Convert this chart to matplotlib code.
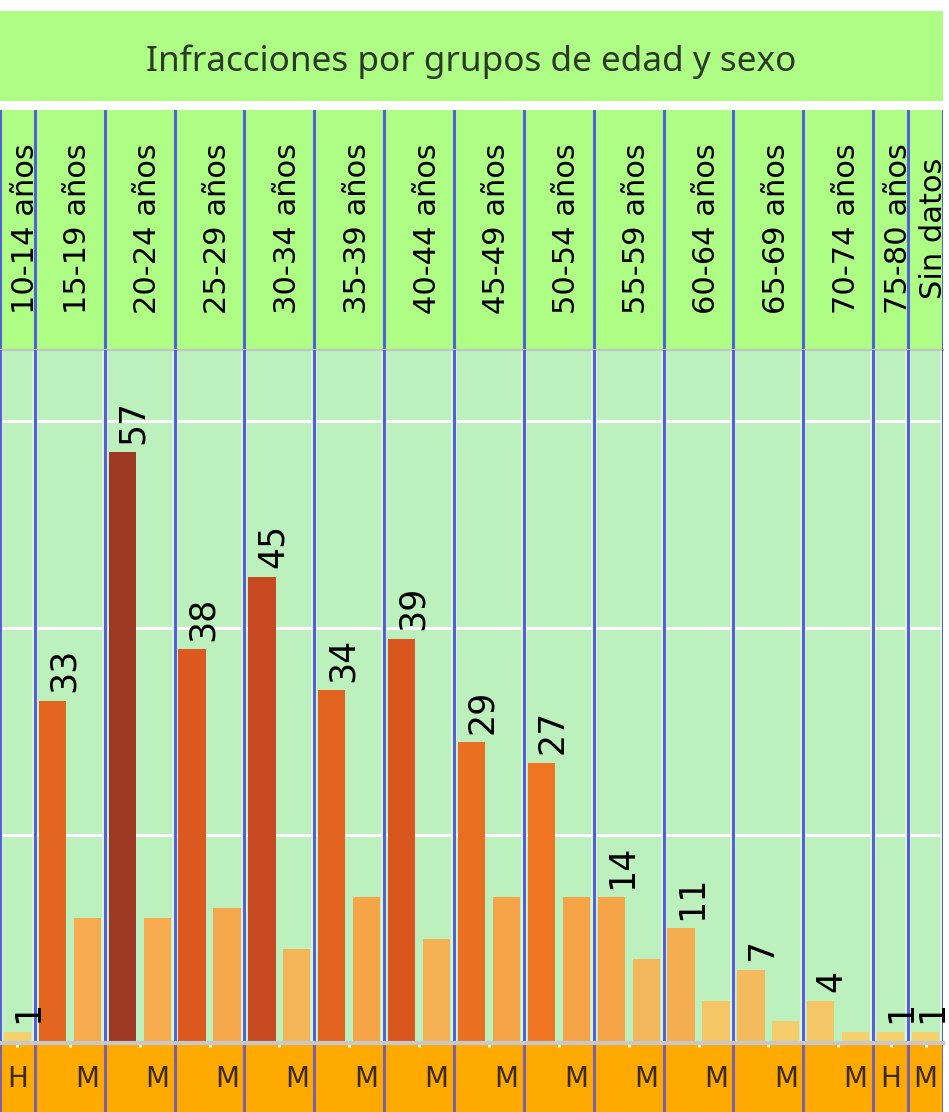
import matplotlib
matplotlib.use("Agg")
import matplotlib.pyplot as plt
from matplotlib.colors import LinearSegmentedColormap
import numpy as np

# datos
grupos = ["10-14 años", "15-19 años", "20-24 años", "25-29 años", "30-34 años",
          "35-39 años", "40-44 años", "45-49 años", "50-54 años", "55-59 años",
          "60-64 años", "65-69 años", "70-74 años", "75-80 años", "Sin datos"]
hombres = [1, 33, 57, 38, 45, 34, 39, 29, 27, 14, 11, 7, 4, 1, None]
mujeres = [None, 12, 12, 13, 9, 14, 10, 14, 14, 8, 4, 2, 1, None, 1]
titulo = "Infracciones por grupos de edad y sexo"

# colores
verde_titulo = "#aefe86"
verde_fondo = "#bcf0bd"
naranja = "#ffaa00"
azul = "#5161d6"
cmap = LinearSegmentedColormap.from_list(
    "naranjas",
    [(0.0, "#f5d06c"), (7 / 56, "#f4b75b"), (13 / 56, "#f5a547"), (26 / 56, "#ef7522"),
     (33 / 56, "#e2621f"), (38 / 56, "#d9561f"), (44 / 56, "#c84a23"), (1.0, "#9e3926")])

W, H = 949, 1112
fig = plt.figure(figsize=(W / 100, H / 100), dpi=100)
fig.patch.set_facecolor("white")
ancho = 943 / W

# construir barras
xs, vals, sexo, etiqueta, grupo_idx = [], [], [], [], []
bordes = [0]
pos = 0
for i, g in enumerate(grupos):
    barras = [(s, v) for s, v in (("H", hombres[i]), ("M", mujeres[i])) if v is not None]
    for j, (s, v) in enumerate(barras):
        xs.append(pos + 0.5)
        vals.append(v)
        sexo.append(s)
        etiqueta.append(j == 0)
        grupo_idx.append(i)
        pos += 1
    bordes.append(pos)
total = pos
centros = [(bordes[i] + bordes[i + 1]) / 2 for i in range(len(grupos))]

# titulo
ax_t = fig.add_axes([0, 1 - 101 / H, ancho, 90 / H])
ax_t.set_facecolor(verde_titulo)
ax_t.set_xticks([]); ax_t.set_yticks([])
for s in ax_t.spines.values():
    s.set_visible(False)
ax_t.text(0.5, 0.44, titulo, ha="center", va="center", fontsize=25.3,
          family=["Noto Sans", "DejaVu Sans"], color="#2b3a25", transform=ax_t.transAxes)

# cabecera de grupos
ax_h = fig.add_axes([0, 1 - 350 / H, ancho, 240 / H])
ax_h.set_facecolor(verde_titulo)
ax_h.set_xlim(0, total); ax_h.set_ylim(0, 1)
ax_h.set_xticks([]); ax_h.set_yticks([])
for s in ax_h.spines.values():
    s.set_visible(False)
for b in bordes:
    ax_h.axvline(b, color=azul, lw=2.2)
for c, g in zip(centros, grupos):
    ax_h.text(c + 0.47, 0.505, g, rotation=90, rotation_mode="anchor", ha="center",
              va="baseline", fontsize=22, color="black")

# grafico principal
ax = fig.add_axes([0, 1 - 1042 / H, ancho, 692 / H])
ax.set_facecolor(verde_fondo)
ax.set_xlim(0, total)
ax.set_ylim(0, 66.9)
ax.set_xticks([]); ax.set_yticks([])
for s in ["left", "right", "bottom"]:
    ax.spines[s].set_visible(False)
ax.spines["top"].set_color("#c4c4c4")
ax.spines["top"].set_linewidth(1.5)
for yv in [20, 40, 60]:
    ax.axhline(yv, color="white", lw=2.2, zorder=1)
for b in bordes:
    ax.axvline(b, color="#e6f5e6", lw=4, zorder=2)
    ax.axvline(b, color=azul, lw=2.2, zorder=3)
colores = [cmap((v - 1) / 56) for v in vals]
ax.bar(xs, vals, width=0.78, color=colores, zorder=4)
for x, v, e in zip(xs, vals, etiqueta):
    if e:
        xl = min(x + 0.6, total - 0.02)
        ax.annotate(str(v), xy=(xl, v), xytext=(0, 6), textcoords="offset points",
                    rotation=90, rotation_mode="anchor", ha="left", va="baseline",
                    fontsize=25, color="black", zorder=5, annotation_clip=False)

# banda inferior H / M
ax_b = fig.add_axes([0, 0, ancho, 69 / H])
ax_b.set_facecolor(naranja)
ax_b.set_xlim(0, total); ax_b.set_ylim(0, 1)
ax_b.set_yticks([])
for s in ["left", "right", "bottom"]:
    ax_b.spines[s].set_visible(False)
ax_b.spines["top"].set_color("#c8c8c8")
ax_b.spines["top"].set_linewidth(3)
ax_b.set_xticks(centros)
ax_b.tick_params(axis="x", top=True, bottom=False, direction="in", length=3, width=2,
                 color="white", labeltop=False, labelbottom=False)
for b in bordes:
    ax_b.axvline(b, color="#7b62a6", lw=2.2)
for i in range(len(xs)):
    ultimo = i == len(xs) - 1 or grupo_idx[i + 1] != grupo_idx[i]
    if ultimo:
        ax_b.text(xs[i], 0.48, sexo[i], ha="center", va="center", fontsize=20,
                  color="#3a2a10")

fig.savefig("out.png", dpi=100)
